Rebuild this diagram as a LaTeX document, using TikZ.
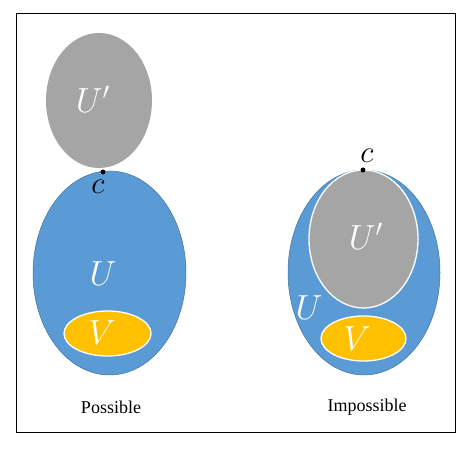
\documentclass[tikz,border=0pt]{standalone}
\usepackage{fontspec}
\setmainfont{Liberation Serif}
\usepackage{amsmath}
\usepackage{tikz}
\usetikzlibrary{shapes.geometric}
\definecolor{setBlue}{HTML}{5B9BD5}
\definecolor{setBlueEdge}{HTML}{41719C}
\definecolor{setGray}{HTML}{A5A5A5}
\definecolor{setGold}{HTML}{FFC000}

\begin{document}
\begin{tikzpicture}[
    x=1pt, y=1pt,
    region/.style={ellipse, inner sep=0pt},
    bigset/.style={region, fill=setBlue, draw=setBlueEdge, line width=0.5pt},
    primeset/.style={region, fill=setGray},
    smallset/.style={region, fill=setGold, draw=white, line width=1.3pt},
    setlabel/.style={text=white, scale=1.4, font=\fontsize{24}{28}\selectfont},
    pointlabel/.style={scale=1.25, font=\fontsize{24}{28}\selectfont},
    dot/.style={circle, fill=black, inner sep=0pt, minimum size=5pt},
    caption/.style={font=\fontsize{18}{22}\selectfont}
  ]
  \useasboundingbox (0,0) rectangle (470,449);
  \draw[line width=0.8pt] (16,17) rectangle (455,436);

  % Possible case
  \node[bigset, minimum width=153pt, minimum height=204pt] (uL) at (109.5,176) {};
  \node[primeset, minimum width=106pt, minimum height=135pt] (upL) at (99,348.5) {};
  \node[smallset, minimum width=87pt, minimum height=45pt] (vL) at (107.5,115.5) {};
  \node[dot] (cL) at (103,277) {};
  \node[pointlabel] (cLlab) at (98,262) {$c$};
  \node[setlabel] (uLlab) at (103,175) {$U$};
  \node[setlabel] (upLlab) at (93,350) {$U'$};
  \node[setlabel] (vLlab) at (102,116) {$V$};
  \node[caption] (possible) at (111,42) {Possible};

  % Impossible case
  \node[bigset, minimum width=152pt, minimum height=205pt] (uR) at (364,176.5) {};
  \node[primeset, draw=white, line width=1.3pt, minimum width=109pt, minimum height=138pt] (upR) at (363.5,210) {};
  \node[smallset, minimum width=85pt, minimum height=45pt] (vR) at (363.5,110.5) {};
  \node[dot] (cR) at (363,279) {};
  \node[pointlabel] (cRlab) at (367,293) {$c$};
  \node[setlabel] (uRlab) at (309,141) {$U$};
  \node[setlabel] (upRlab) at (366,213) {$U'$};
  \node[setlabel] (vRlab) at (357,110) {$V$};
  \node[caption] (impossible) at (367,42) {Impossible};
\end{tikzpicture}
\end{document}
